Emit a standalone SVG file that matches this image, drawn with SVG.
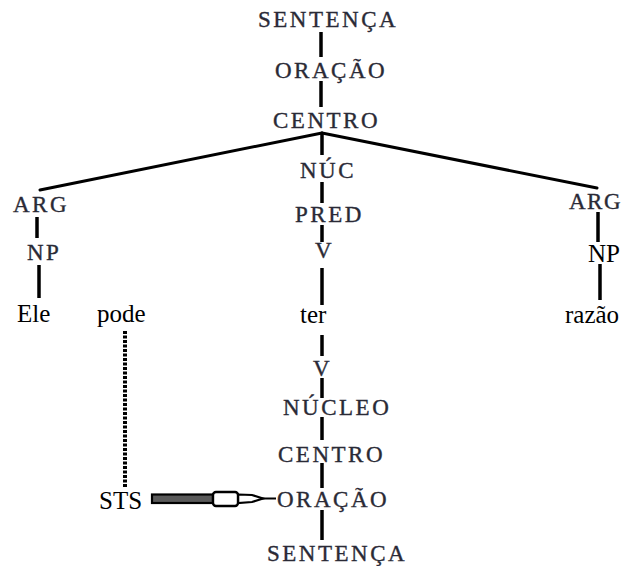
<svg xmlns="http://www.w3.org/2000/svg" width="624" height="566" viewBox="0 0 624 566">
<style>
.lbl{font-size:23px;letter-spacing:2.5px;fill:#2a2a36;stroke:#2a2a36;stroke-width:0.35}
.wd{font-size:25px;fill:#000}
.ln{stroke:#000;stroke-width:3.5;fill:none;stroke-linecap:butt}
.br{stroke:#000;stroke-width:3;fill:none;stroke-linecap:round}
</style>
<rect width="624" height="566" fill="#fff"/>
<g id="connectors">
  <line class="ln" x1="321" y1="32" x2="321" y2="57"/>
  <line class="ln" x1="321" y1="81" x2="321" y2="107"/>
  <line class="br" x1="322" y1="133" x2="40" y2="190"/>
  <line class="br" x1="322" y1="133" x2="597" y2="188"/>
  <line class="ln" x1="322" y1="133" x2="322" y2="155"/>
  <line class="ln" x1="322" y1="182" x2="322" y2="203"/>
  <line class="ln" x1="322" y1="225" x2="322" y2="242"/>
  <line class="ln" x1="322" y1="268" x2="322" y2="305"/>
  <line class="ln" x1="322" y1="335" x2="322" y2="356"/>
  <line class="ln" x1="322" y1="378" x2="322" y2="398"/>
  <line class="ln" x1="322" y1="417" x2="322" y2="440"/>
  <line class="ln" x1="322" y1="463" x2="322" y2="488"/>
  <line class="ln" x1="322" y1="510" x2="322" y2="540"/>
  <line class="ln" x1="37" y1="217" x2="37" y2="238"/>
  <line class="ln" x1="39" y1="265" x2="39" y2="298"/>
  <line class="ln" x1="598" y1="212" x2="598" y2="242"/>
  <line class="ln" x1="600" y1="264" x2="600" y2="300"/>
  <line x1="125" y1="331" x2="125" y2="487" stroke="#000" stroke-width="4" stroke-dasharray="3 1.5"/>
  <g id="sts-arrow">
    <rect x="152" y="494.5" width="61" height="8.5" fill="#5a5a5a" stroke="#000" stroke-width="2.2"/>
    <path d="M238,494.5 L252,495 L263,498.5 L252,502 L238,503 Z" fill="#fff" stroke="#000" stroke-width="2.2"/>
    <line x1="262" y1="498.5" x2="276" y2="498.5" stroke="#000" stroke-width="2"/>
    <rect x="213" y="492" width="25" height="14" rx="3" fill="#fff" stroke="#000" stroke-width="2.4"/>
  </g>
</g>
<g font-family="Liberation Serif, serif">
<g id="n-sentenca1"><text class="lbl" x="258" y="27">SENTENÇA</text></g>
<g id="n-oracao1"><text class="lbl" x="275" y="78">ORAÇÃO</text></g>
<g id="n-centro1"><text class="lbl" x="273" y="128">CENTRO</text></g>
<g id="n-nuc"><text class="lbl" x="300" y="178">NÚC</text></g>
<g id="n-pred"><text class="lbl" x="295" y="222">PRED</text></g>
<g id="n-v1"><text class="lbl" x="315" y="258">V</text></g>
<g id="n-v2"><text class="lbl" x="313" y="376">V</text></g>
<g id="n-nucleo"><text class="lbl" x="283" y="415">NÚCLEO</text></g>
<g id="n-centro2"><text class="lbl" x="278" y="462">CENTRO</text></g>
<g id="n-oracao2"><text class="lbl" x="277" y="507">ORAÇÃO</text></g>
<g id="n-sentenca2"><text class="lbl" x="267" y="561">SENTENÇA</text></g>
<g id="n-arg1"><text class="lbl" x="13" y="212">ARG</text></g>
<g id="n-np1"><text class="lbl" x="27" y="260">NP</text></g>
<g id="n-arg2"><text class="lbl" x="569" y="209" style="letter-spacing:1.5px">ARG</text></g>
<g id="n-ter"><text class="wd" x="300" y="323">ter</text></g>
<g id="n-ele"><text class="wd" x="17" y="322">Ele</text></g>
<g id="n-pode"><text class="wd" x="97" y="322">pode</text></g>
<g id="n-np2"><text class="wd" x="588" y="262">NP</text></g>
<g id="n-razao"><text class="wd" x="565" y="323">razão</text></g>
<g id="n-sts"><text class="wd" x="99" y="509">STS</text></g>
</g>
</svg>
